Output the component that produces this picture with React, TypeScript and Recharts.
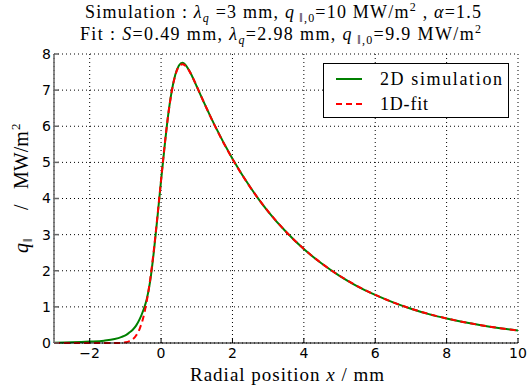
import { LineChart, Line, XAxis, YAxis, CartesianGrid, Legend } from "recharts";

const xValues = [
  -3, -2.5, -2, -1.6, -1.3, -1.1, -1.0, -0.9, -0.8, -0.7, -0.6, -0.5, -0.4, -0.3, -0.2, -0.1,
  0, 0.1, 0.2, 0.3, 0.4, 0.5, 0.6, 0.7, 0.8, 0.9, 1.0, 1.2, 1.5, 2, 2.5, 3, 3.5, 4, 4.5, 5,
  5.5, 6, 6.5, 7, 7.5, 8, 8.5, 9, 9.5, 10,
];

const simValues = [
  0.01, 0.02, 0.04, 0.065, 0.11, 0.17, 0.21, 0.28, 0.36, 0.48, 0.66, 0.9, 1.22, 1.75, 2.55, 3.5,
  4.5, 5.45, 6.32, 6.98, 7.43, 7.68, 7.76, 7.68, 7.52, 7.32, 7.1, 6.66, 6.03, 5.1, 4.31, 3.64, 3.08, 2.6, 2.2, 1.86,
  1.57, 1.33, 1.125, 0.95, 0.8, 0.68, 0.575, 0.486, 0.41, 0.348,
];

const fitValues = [
  0, 0, 0, 0, 0.001, 0.005, 0.02, 0.046, 0.1, 0.206, 0.394, 0.7, 1.166, 1.796, 2.6, 3.533,
  4.522, 5.479, 6.315, 6.97, 7.415, 7.651, 7.715, 7.655, 7.512, 7.321, 7.106, 6.66, 6.025, 5.095, 4.308, 3.642, 3.08, 2.604, 2.202, 1.862,
  1.574, 1.331, 1.125, 0.951, 0.804, 0.68, 0.575, 0.486, 0.411, 0.348,
];

const xTicks = [-2, 0, 2, 4, 6, 8, 10];
const yTicks = [0, 1, 2, 3, 4, 5, 6, 7, 8];

const seriesNames = ["2D simulation", "1D-fit"];

const data = xValues.map((x, i) => ({ x, sim: simValues[i], fit: fitValues[i] }));

const serif = "'Liberation Serif', 'DejaVu Serif', serif";
const sans = "'DejaVu Sans', sans-serif";

const fmt = (v: number) => String(v).replace("-", "\u2212");

const LegendBox = () => (
  <div
    style={{
      width: 186,
      height: 55,
      border: "1px solid #000",
      background: "#fff",
      boxSizing: "border-box",
    }}
  >
    <svg width={184} height={53} style={{ display: "block" }}>
      <line x1={12} x2={38} y1={15} y2={15} stroke="#008000" strokeWidth={2} />
      <line x1={12} x2={38} y1={40} y2={40} stroke="#ff0000" strokeWidth={2} strokeDasharray="6 4" />
      <text x={56} y={21} fontFamily={serif} fontSize={18} textLength={122}>{seriesNames[0]}</text>
      <text x={56} y={46} fontFamily={serif} fontSize={18} textLength={48}>{seriesNames[1]}</text>
    </svg>
  </div>
);

export default function App() {
  return (
    <div style={{ position: "absolute", left: 0, top: 0, width: 527, height: 390, background: "#fff" }}>
      <LineChart width={527} height={390} data={data} margin={{ top: 54, right: 9, bottom: 17, left: 14 }}>
        <CartesianGrid stroke="#000" strokeDasharray="1 3" />
        <XAxis
          dataKey="x"
          type="number"
          domain={[-3, 10]}
          ticks={xTicks}
          tickFormatter={fmt}
          height={30}
          stroke="#000"
          tickSize={-5}
          tickMargin={10}
          tick={{ fill: "#000", fontSize: 14, fontFamily: sans }}
          allowDataOverflow
        />
        <XAxis
          xAxisId="top"
          dataKey="x"
          type="number"
          domain={[-3, 10]}
          ticks={xTicks}
          orientation="top"
          mirror
          height={0}
          tickSize={5}
          stroke="#000"
          tick={() => <g />}
        />
        <YAxis
          type="number"
          domain={[0, 8]}
          ticks={yTicks}
          width={40}
          stroke="#666"
          strokeWidth={1.5}
          tickSize={-5}
          tickMargin={8}
          tick={{ fill: "#000", fontSize: 14, fontFamily: sans }}
        />
        <YAxis
          yAxisId="right"
          type="number"
          domain={[0, 8]}
          ticks={yTicks}
          orientation="right"
          mirror
          width={0}
          tickSize={5}
          stroke="#000"
          tick={() => <g />}
        />
        <Legend
          layout="horizontal"
          verticalAlign="middle"
          align="center"
          content={() => <LegendBox />}
          wrapperStyle={{ left: 323, top: 63, width: 186, height: 55 }}
        />
        <Line
          dataKey="sim"
          name={seriesNames[0]}
          type="monotone"
          stroke="#008000"
          strokeWidth={2}
          dot={false}
          isAnimationActive={false}
        />
        <Line
          dataKey="fit"
          name={seriesNames[1]}
          type="monotone"
          stroke="#ff0000"
          strokeWidth={2}
          strokeDasharray="6 4"
          dot={false}
          isAnimationActive={false}
        />
      </LineChart>
      <svg
        width={527}
        height={390}
        style={{ position: "absolute", left: 0, top: 0, pointerEvents: "none", whiteSpace: "pre" }}
      >
        <text x={85} y={18} fontFamily={serif} fontSize={18} textLength={396}>
          <tspan>{"Simulation : "}</tspan>
          <tspan fontStyle="italic">{"λ"}</tspan>
          <tspan fontStyle="italic" fontSize={12} dy={4}>{"q"}</tspan>
          <tspan dy={-4}>{" =3 mm, "}</tspan>
          <tspan fontStyle="italic">{"q"}</tspan>
          <tspan fontSize={12} dy={4}>{" ‖,0"}</tspan>
          <tspan dy={-4}>{"=10 MW/m"}</tspan>
          <tspan fontSize={12} dy={-7}>{"2"}</tspan>
          <tspan dy={7}>{" , "}</tspan>
          <tspan fontStyle="italic">{"α"}</tspan>
          <tspan>{"=1.5"}</tspan>
        </text>
        <text x={80} y={40} fontFamily={serif} fontSize={18} textLength={401}>
          <tspan>{"Fit : "}</tspan>
          <tspan fontStyle="italic">{"S"}</tspan>
          <tspan>{"=0.49 mm, "}</tspan>
          <tspan fontStyle="italic">{"λ"}</tspan>
          <tspan fontStyle="italic" fontSize={12} dy={4}>{"q"}</tspan>
          <tspan dy={-4}>{"=2.98 mm, "}</tspan>
          <tspan fontStyle="italic">{"q"}</tspan>
          <tspan fontSize={12} dy={4}>{" ‖,0"}</tspan>
          <tspan dy={-4}>{"=9.9 MW/m"}</tspan>
          <tspan fontSize={12} dy={-7}>{"2"}</tspan>
        </text>
        <text x={190} y={381} fontFamily={serif} fontSize={19} textLength={194}>
          <tspan>{"Radial position "}</tspan>
          <tspan fontStyle="italic">{"x"}</tspan>
          <tspan>{"  / mm"}</tspan>
        </text>
        <text transform="translate(28 253) rotate(-90)" fontFamily={serif} fontSize={20}>
          <tspan x={0} y={0} fontStyle="italic">{"q"}</tspan>
          <tspan x={11} y={4} fontSize={13}>{"‖"}</tspan>
          <tspan x={43} y={0}>{"/"}</tspan>
          <tspan x={64} y={0}>{"MW/m"}</tspan>
          <tspan x={123} y={-8} fontSize={13}>{"2"}</tspan>
        </text>
      </svg>
    </div>
  );
}
